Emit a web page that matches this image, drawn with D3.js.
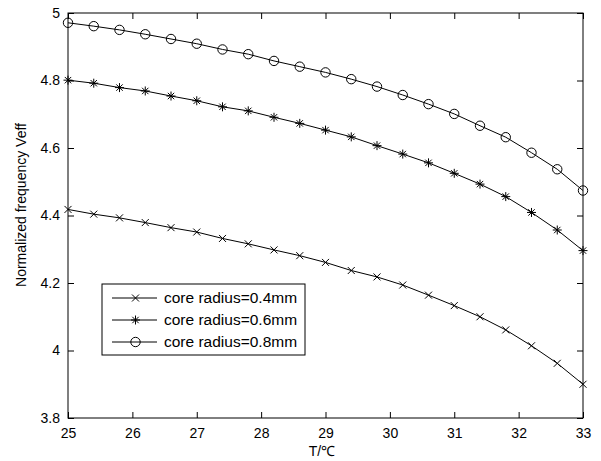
<!DOCTYPE html>
<html>
<head>
<meta charset="utf-8">
<script src="https://cdnjs.cloudflare.com/ajax/libs/d3/7.8.5/d3.min.js"></script>
<style>
  body { margin: 0; background: #fff; }
  svg text { font-family: "Liberation Sans", Arial, sans-serif; fill: #000; }
</style>
</head>
<body>
<svg id="chart"></svg>
<script>
// temperature samples (°C)
var temps = [25, 25.4, 25.8, 26.2, 26.6, 27, 27.4, 27.8, 28.2, 28.6, 29,
             29.4, 29.8, 30.2, 30.6, 31, 31.4, 31.8, 32.2, 32.6, 33];

var veff04 = [4.418, 4.404, 4.393, 4.379, 4.364, 4.351, 4.332, 4.316, 4.298, 4.281, 4.261,
              4.237, 4.218, 4.194, 4.164, 4.133, 4.100, 4.061, 4.014, 3.962, 3.900];
var veff06 = [4.801, 4.792, 4.779, 4.769, 4.754, 4.740, 4.722, 4.710, 4.691, 4.673, 4.653,
              4.633, 4.607, 4.582, 4.556, 4.525, 4.493, 4.456, 4.409, 4.357, 4.296];
var veff08 = [4.971, 4.961, 4.950, 4.937, 4.923, 4.909, 4.892, 4.878, 4.858, 4.841, 4.824,
              4.804, 4.782, 4.757, 4.730, 4.701, 4.666, 4.632, 4.586, 4.537, 4.474];

var seriesNames = ['core radius=0.4mm', 'core radius=0.6mm', 'core radius=0.8mm'];
var xTicks = [25, 26, 27, 28, 29, 30, 31, 32, 33];
var yTicks = [3.8, 4, 4.2, 4.4, 4.6, 4.8, 5];
var yTickLabels = ['3.8', '4', '4.2', '4.4', '4.6', '4.8', '5'];

var width = 601,
    height = 461,
    margin = {left: 68, right: 18, top: 13, bottom: 43},
    tick = 6;

var series = [
    {name: seriesNames[0], values: veff04, marker: 'x'},
    {name: seriesNames[1], values: veff06, marker: 'star'},
    {name: seriesNames[2], values: veff08, marker: 'circle'}
];

var svg = d3.select('#chart')
    .attr('width', width)
    .attr('height', height);

var x = d3.scaleLinear()
    .domain([25, 33])
    .range([margin.left, width - margin.right]);

var y = d3.scaleLinear()
    .domain([3.8, 5])
    .range([height - margin.bottom, margin.top]);

// axes, ticks pointing inward like matlab
var fmtY = function(d) { return yTickLabels[yTicks.indexOf(d)]; };

svg.append('g')
    .attr('transform', 'translate(0,' + y(3.8) + ')')
    .call(d3.axisBottom(x).tickValues(xTicks).tickSizeInner(-tick).tickSizeOuter(0).tickPadding(10).tickFormat(d3.format('d')))
    .call(g => g.select('.domain').remove());

svg.append('g')
    .attr('transform', 'translate(0,' + y(5) + ')')
    .call(d3.axisTop(x).tickValues(xTicks).tickSizeInner(-tick).tickSizeOuter(0).tickFormat(''))
    .call(g => g.select('.domain').remove());

svg.append('g')
    .attr('transform', 'translate(' + x(25) + ',0)')
    .call(d3.axisLeft(y).tickValues(yTicks).tickSizeInner(-tick).tickSizeOuter(0).tickPadding(8).tickFormat(fmtY))
    .call(g => g.select('.domain').remove());

svg.append('g')
    .attr('transform', 'translate(' + x(33) + ',0)')
    .call(d3.axisRight(y).tickValues(yTicks).tickSizeInner(-tick).tickSizeOuter(0).tickFormat(''))
    .call(g => g.select('.domain').remove());

svg.selectAll('.tick line').attr('stroke', '#000');
svg.selectAll('.tick text')
    .style('font-size', '14px')
    .style('font-family', '"Liberation Sans", Arial, sans-serif');

svg.append('rect')
    .attr('x', x(25))
    .attr('y', y(5))
    .attr('width', x(33) - x(25))
    .attr('height', y(3.8) - y(5))
    .attr('fill', 'none')
    .attr('stroke', '#000');

// marker shapes
function markerPath(type) {
    if (type === 'x') {
        var s = 3.5;
        return 'M' + -s + ',' + -s + 'L' + s + ',' + s + 'M' + -s + ',' + s + 'L' + s + ',' + -s;
    }
    if (type === 'star') {
        var a = 4.5, b = 3.2;
        return 'M0,' + -a + 'V' + a + 'M' + -a + ',0H' + a +
            'M' + -b + ',' + -b + 'L' + b + ',' + b + 'M' + -b + ',' + b + 'L' + b + ',' + -b;
    }
    return d3.arc()({innerRadius: 0, outerRadius: 4.7, startAngle: 0, endAngle: 2 * Math.PI});
}

var line = d3.line()
    .x(function(d, i) { return x(temps[i]); })
    .y(function(d) { return y(d); });

var lines = svg.selectAll('.series')
    .data(series)
    .enter().append('g')
    .attr('class', 'series');

lines.append('path')
    .attr('d', function(d) { return line(d.values); })
    .attr('fill', 'none')
    .attr('stroke', '#000')
    .attr('stroke-width', 1);

lines.each(function(s) {
    d3.select(this).selectAll('.mk')
        .data(s.values)
        .enter().append('path')
        .attr('class', 'mk')
        .attr('transform', function(d, i) { return 'translate(' + x(temps[i]) + ',' + y(d) + ')'; })
        .attr('d', markerPath(s.marker))
        .attr('fill', 'none')
        .attr('stroke', '#000')
        .attr('stroke-width', 1);
});

// legend
var legend = svg.append('g').attr('transform', 'translate(102,284)');

legend.append('rect')
    .attr('width', 203)
    .attr('height', 71)
    .attr('fill', '#fff')
    .attr('stroke', '#000');

var item = legend.selectAll('.item')
    .data(series)
    .enter().append('g')
    .attr('transform', function(d, i) { return 'translate(0,' + (14 + i * 22) + ')'; });

item.append('line')
    .attr('x1', 10).attr('x2', 55)
    .attr('stroke', '#000');

item.append('path')
    .attr('transform', 'translate(33.5,0)')
    .attr('d', function(d) { return markerPath(d.marker); })
    .attr('fill', 'none')
    .attr('stroke', '#000');

item.append('text')
    .attr('x', 62)
    .attr('dy', '0.35em')
    .style('font-size', '15.5px')
    .text(function(d) { return d.name; });

// axis titles
svg.append('text')
    .attr('x', 322)
    .attr('y', 456)
    .attr('text-anchor', 'middle')
    .style('font-size', '14px')
    .text('T/℃');

svg.append('text')
    .attr('transform', 'translate(26,205) rotate(-90)')
    .attr('text-anchor', 'middle')
    .style('font-size', '14px')
    .text('Normalized frequency Veff');
</script>
</body>
</html>
